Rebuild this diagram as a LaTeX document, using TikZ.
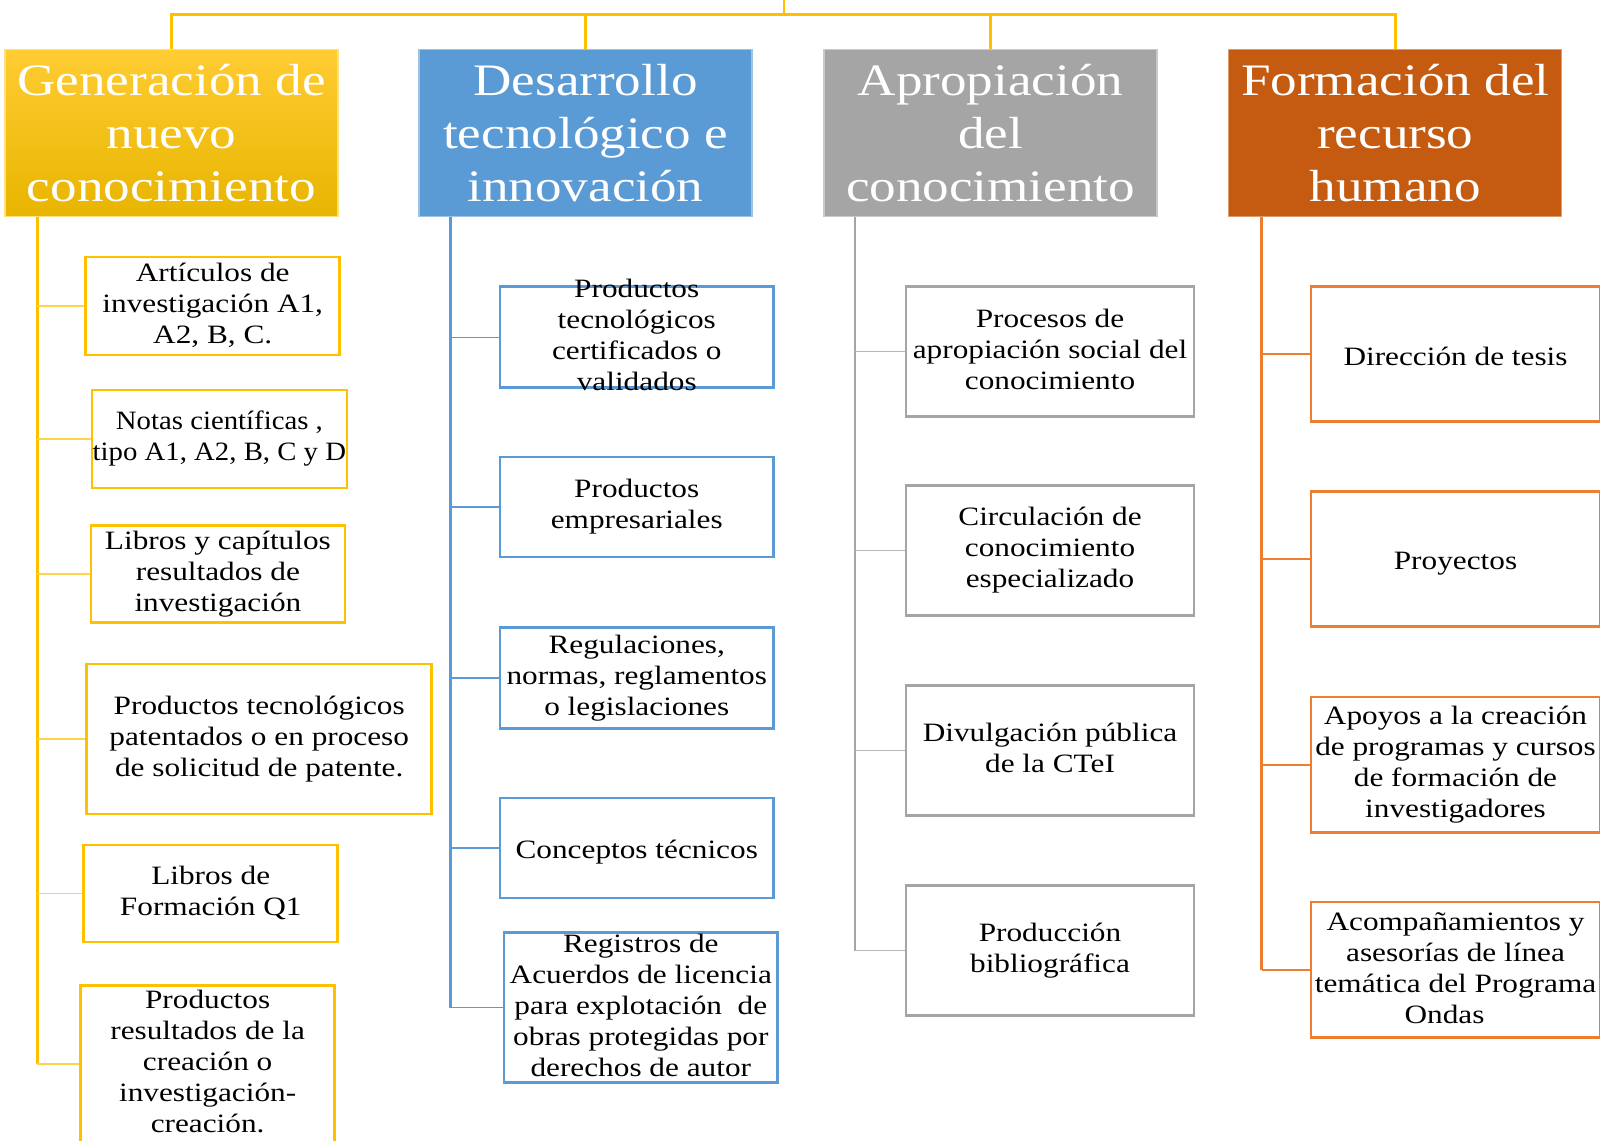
\documentclass[tikz,border=0pt]{standalone}
\usepackage{graphicx}
\usepackage{fontspec}
\setmainfont{Liberation Serif}[FakeStretch=1.18]
\definecolor{cyel}{HTML}{FFC000}
\definecolor{cyelT}{HTML}{FFCC33}
\definecolor{cyelB}{HTML}{E8B500}
\definecolor{cblu}{HTML}{5B9BD5}
\definecolor{cgry}{HTML}{A5A5A5}
\definecolor{corgH}{HTML}{C55A11}
\definecolor{corg}{HTML}{ED7D31}
\newcommand\mystrut{\vrule width 0pt height 26.5pt depth 4.5pt\relax}
\begin{document}
\begin{tikzpicture}[x=1pt,y=-1pt,
  hdr/.style={minimum width=333pt, minimum height=167pt, inner sep=0pt, text=white,
    align=center, font=\fontsize{45}{53}\selectfont, line width=1.2pt},
  box/.style={draw, line width=2.7pt, inner sep=0pt, align=center,
    font=\fontsize{26.5}{31}\selectfont, text=black,
    execute at begin node=\mystrut, execute at end node=\mystrut},
  lbl/.style={inner sep=0pt, align=center, font=\fontsize{26.5}{31}\selectfont, text=black,
    execute at begin node=\mystrut, execute at end node=\mystrut},
  trunk/.style={line width=2.3pt},
  branch/.style={line width=1.3pt},
  topline/.style={cyel, line width=2.5pt},
]
\clip (0,0) rectangle (1600,1140);
\fill[white] (0,0) rectangle (1600,1140);

% headers
\node[hdr, top color=cyelT, bottom color=cyelB, draw=cyel!50!white] (h1) at (171.5,133) {Generación de\\nuevo\\conocimiento};
\node[hdr, fill=cblu, draw=cblu!60!white] (h2) at (585.5,133) {Desarrollo\\tecnológico e\\innovación};
\node[hdr, fill=cgry, draw=cgry!60!white] (h3) at (990.5,133) {Apropiación\\del\\conocimiento};
\node[hdr, fill=corgH, draw=corgH!60!white] (h4) at (1395.3,133) {Formación del\\recurso\\humano};

% top connectors
\coordinate (top) at (784,0);
\coordinate (bar) at (784,14.3);
\draw[topline] (top) -- (bar);
\draw[topline] (h1.north) -- (h1.north |- bar) -- (h4.north |- bar) -- (h4.north);
\draw[topline] (h2.north) -- (h2.north |- bar);
\draw[topline] (h3.north) -- (h3.north |- bar);

% column 1
\begin{scope}[every node/.append style={draw=cyel}]
\node[box, minimum width=254pt, minimum height=98pt] (a1) at (212.75,306) {Artículos de\\investigación A1,\\A2, B, C.};
\node[box, minimum width=255pt, minimum height=98pt] (a2) at (219.4,438.9) {};
\node[box, minimum width=254pt, minimum height=97pt] (a3) at (217.9,574) {Libros y capítulos\\resultados de\\investigación};
\node[box, minimum width=345pt, minimum height=150pt] (a4) at (259.2,739) {Productos tecnológicos\\patentados o en proceso\\de solicitud de patente.};
\node[box, minimum width=254pt, minimum height=97pt] (a5) at (210.75,893.5) {Libros de\\Formación Q1};
\node[box, minimum width=254pt, minimum height=157pt] (a6) at (207.65,1064) {};
\end{scope}
\node[lbl] (a2t) at (a2.center) {\scalebox{0.92}[1]{\begin{tabular}{@{}c@{}}Notas científicas ,\\tipo A1, A2, B, C y D\end{tabular}}};
\node[lbl] (a6t) at (a6.center) {Productos\\resultados de la\\creación o\\investigación-\\creación.};
\draw[trunk, cyel] (h1.south west) ++(33,0) coordinate (t1) -- (t1 |- a6.west);
\foreach \n in {a1,a2,a3,a4,a5,a6}
  \draw[branch, cyel!70!white] (\n.west) -- (\n.west -| t1);

% column 2
\begin{scope}[every node/.append style={draw=cblu}]
\node[box, minimum width=273.5pt, minimum height=101pt] (b1) at (636.75,337.25) {};
\node[box, minimum width=273.5pt, minimum height=100pt] (b2) at (636.75,507) {Productos\\empresariales};
\node[box, minimum width=273.5pt, minimum height=101pt] (b3) at (636.75,678.1) {Regulaciones,\\normas, reglamentos\\o legislaciones};
\node[box, minimum width=273.5pt, minimum height=100pt] (b4) at (636.75,848) {Conceptos técnicos};
\node[box, minimum width=273.6pt, minimum height=150pt] (b5) at (640.8,1007.7) {};
\end{scope}
\node[lbl] (b1t) at (b1.center) {Productos\\tecnológicos\\certificados o\\validados};
\node[lbl] (b5t) at (b5.center) {Registros de\\Acuerdos de licencia\\para explotación \ de\\obras protegidas por\\derechos de autor};
\draw[trunk, cblu] (h2.south west) ++(32,0) coordinate (t2) -- (t2 |- b5.west);
\foreach \n in {b1,b2,b3,b4,b5}
  \draw[branch, cblu] (\n.west) -- (\n.west -| t2);

% column 3
\begin{scope}[every node/.append style={draw=cgry}]
\node[box, minimum width=288pt, minimum height=129.6pt] (c1) at (1050,351.5) {Procesos de\\apropiación social del\\conocimiento};
\node[box, minimum width=288pt, minimum height=129.6pt] (c2) at (1050,550.5) {Circulación de\\conocimiento\\especializado};
\node[box, minimum width=288pt, minimum height=129.6pt] (c3) at (1050,750.5) {Divulgación pública\\de la CTeI};
\node[box, minimum width=288pt, minimum height=129.6pt] (c4) at (1050,950.5) {Producción\\bibliográfica};
\end{scope}
\draw[trunk, cgry] (h3.south west) ++(31.5,0) coordinate (t3) -- (t3 |- c4.west);
\foreach \n in {c1,c2,c3,c4}
  \draw[branch, cgry!80!white] (\n.west) -- (\n.west -| t3);

% column 4
\begin{scope}[every node/.append style={draw=corg}]
\node[box, minimum width=289pt, minimum height=134.7pt] (d1) at (1455.5,354) {Dirección de tesis};
\node[box, minimum width=289pt, minimum height=134.7pt] (d2) at (1455.5,559) {Proyectos};
\node[box, minimum width=289pt, minimum height=135.7pt] (d3) at (1455.5,764.9) {Apoyos a la creación\\de programas y cursos\\de formación de\\investigadores};
\node[box, minimum width=289pt, minimum height=135.7pt] (d4) at (1455.5,969.9) {Acompañamientos y\\asesorías de línea\\temática del Programa\\Ondas\hspace*{22pt}};
\end{scope}
\draw[trunk, corg] (h4.south west) ++(33.4,0) coordinate (t4) -- (t4 |- d4.west);
\foreach \n in {d1,d2,d3,d4}
  \draw[branch, corg] (\n.west) -- (\n.west -| t4);
\end{tikzpicture}
\end{document}
